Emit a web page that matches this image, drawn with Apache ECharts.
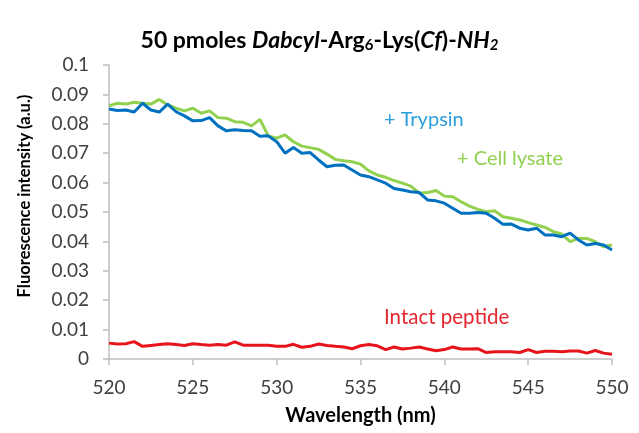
<!DOCTYPE html>
<html>
<head>
<meta charset="utf-8">
<script src="https://cdn.jsdelivr.net/npm/echarts@6/dist/echarts.min.js"></script>
<style>
  html, body { margin: 0; padding: 0; background: #fff; }
  #chart { width: 639px; height: 433px; }
</style>
</head>
<body>
<div id="chart"></div>
<script>
// 波长 520 - 550 nm, 步长 0.5
var wavelengths = [];
for (var w = 520; w <= 550; w += 0.5) { wavelengths.push(w); }

// + Trypsin
var trypsinValues = [
    0.0850, 0.0845, 0.0847, 0.0840, 0.0870, 0.0847, 0.0840, 0.0867, 0.0841, 0.0827,
    0.0810, 0.0811, 0.0821, 0.0793, 0.0776, 0.0780, 0.0777, 0.0776, 0.0758, 0.0759,
    0.0739, 0.0700, 0.0719, 0.0700, 0.0702, 0.0677, 0.0654, 0.0659, 0.0660, 0.0643,
    0.0626, 0.0620, 0.0609, 0.0598, 0.0580, 0.0575, 0.0569, 0.0566, 0.0541, 0.0538,
    0.0530, 0.0513, 0.0496, 0.0496, 0.0498, 0.0496, 0.0479, 0.0458, 0.0459, 0.0445,
    0.0439, 0.0445, 0.0422, 0.0422, 0.0416, 0.0428, 0.0405, 0.0388, 0.0393, 0.0388,
    0.0371
];

// + Cell lysate
var lysateValues = [
    0.0861, 0.0870, 0.0867, 0.0873, 0.0870, 0.0867, 0.0883, 0.0864, 0.0853, 0.0844,
    0.0853, 0.0836, 0.0844, 0.0821, 0.0819, 0.0807, 0.0805, 0.0793, 0.0815, 0.0759,
    0.0751, 0.0762, 0.0739, 0.0724, 0.0719, 0.0713, 0.0697, 0.0679, 0.0674, 0.0671,
    0.0663, 0.0640, 0.0626, 0.0618, 0.0607, 0.0598, 0.0588, 0.0564, 0.0566, 0.0573,
    0.0554, 0.0552, 0.0535, 0.0520, 0.0509, 0.0501, 0.0504, 0.0484, 0.0479, 0.0473,
    0.0464, 0.0456, 0.0448, 0.0433, 0.0425, 0.0399, 0.0410, 0.0410, 0.0399, 0.0382,
    0.0388
];

// Intact peptide
var intactValues = [
    0.0054, 0.0051, 0.0052, 0.0059, 0.0043, 0.0046, 0.0049, 0.0052, 0.0049, 0.0046,
    0.0052, 0.0049, 0.0047, 0.0049, 0.0047, 0.0058, 0.0047, 0.0047, 0.0047, 0.0047,
    0.0043, 0.0043, 0.0050, 0.0040, 0.0043, 0.0051, 0.0046, 0.0043, 0.0041, 0.0035,
    0.0045, 0.0049, 0.0045, 0.0032, 0.0041, 0.0034, 0.0037, 0.0041, 0.0034, 0.0028,
    0.0032, 0.0041, 0.0034, 0.0034, 0.0035, 0.0022, 0.0025, 0.0025, 0.0025, 0.0022,
    0.0032, 0.0022, 0.0026, 0.0026, 0.0025, 0.0027, 0.0027, 0.0020, 0.0029, 0.0020,
    0.0016
];

function pairs(values) {
    return values.map(function (v, i) { return [wavelengths[i], v]; });
}

var FONT = 'Lato, "Open Sans", sans-serif';

var chart = echarts.init(document.getElementById('chart'));

var option = {
    backgroundColor: '#ffffff',
    animation: false,
    title: {
        text: '{n|50 pmoles }{i|Dabcyl}{n|-Arg}{s|6}{n|-Lys(}{i|Cf}{n|)-}{i|NH}{si|2}',
        left: 'center',
        top: 24,
        textStyle: {
            rich: {
                n: { fontFamily: FONT, fontSize: 23, fontWeight: 'bold', color: '#000' },
                i: { fontFamily: FONT, fontSize: 23, fontWeight: 'bold', fontStyle: 'italic', color: '#000' },
                s: { fontFamily: FONT, fontSize: 15, fontWeight: 'bold', color: '#000', verticalAlign: 'bottom', padding: [9, 0, 0, 0] },
                si: { fontFamily: FONT, fontSize: 15, fontWeight: 'bold', fontStyle: 'italic', color: '#000', verticalAlign: 'bottom', padding: [9, 0, 0, 0] }
            }
        }
    },
    grid: {
        left: 109,
        right: 27,
        top: 65,
        bottom: 74
    },
    xAxis: {
        type: 'value',
        min: 520,
        max: 550,
        interval: 5,
        name: 'Wavelength (nm)',
        nameLocation: 'middle',
        nameGap: 47,
        nameTextStyle: { fontFamily: FONT, fontSize: 20, fontWeight: 'bold', color: '#000' },
        axisLine: { lineStyle: { color: '#bfbfbf', width: 1.5 } },
        axisTick: { show: true, length: 6, lineStyle: { color: '#bfbfbf', width: 1.5 } },
        axisLabel: { fontFamily: FONT, fontSize: 19, color: '#404040', margin: 19 },
        splitLine: { show: false }
    },
    yAxis: {
        type: 'value',
        min: 0,
        max: 0.1,
        interval: 0.01,
        axisLine: { show: true, lineStyle: { color: '#bfbfbf', width: 1.5 } },
        axisTick: { show: true, length: 6, lineStyle: { color: '#bfbfbf', width: 1.5 } },
        axisLabel: { fontFamily: FONT, fontSize: 19, color: '#404040', margin: 20 },
        splitLine: { show: false }
    },
    graphic: [
        {
            type: 'text',
            x: 25,
            y: 196,
            rotation: Math.PI / 2,
            style: {
                text: 'Fluorescence intensity (a.u.)',
                font: 'bold 16.5px ' + FONT,
                fill: '#000',
                align: 'center',
                verticalAlign: 'middle'
            }
        },
        {
            type: 'text',
            left: 384,
            top: 110,
            style: { text: '+ Trypsin', font: '20px ' + FONT, fill: '#2a9fdc' }
        },
        {
            type: 'text',
            left: 457,
            top: 149,
            style: { text: '+ Cell lysate', font: '20px ' + FONT, fill: '#92d050' }
        },
        {
            type: 'text',
            left: 384,
            top: 307,
            style: { text: 'Intact peptide', font: '20.5px ' + FONT, fill: '#e3262e' }
        }
    ],
    series: [
        {
            name: '+ Cell lysate',
            type: 'line',
            data: pairs(lysateValues),
            showSymbol: false,
            lineStyle: { color: '#92d050', width: 3 }
        },
        {
            name: '+ Trypsin',
            type: 'line',
            data: pairs(trypsinValues),
            showSymbol: false,
            lineStyle: { color: '#0070c0', width: 3 }
        },
        {
            name: 'Intact peptide',
            type: 'line',
            data: pairs(intactValues),
            showSymbol: false,
            lineStyle: { color: '#e8141c', width: 3 }
        }
    ]
};

chart.setOption(option);
</script>
</body>
</html>
